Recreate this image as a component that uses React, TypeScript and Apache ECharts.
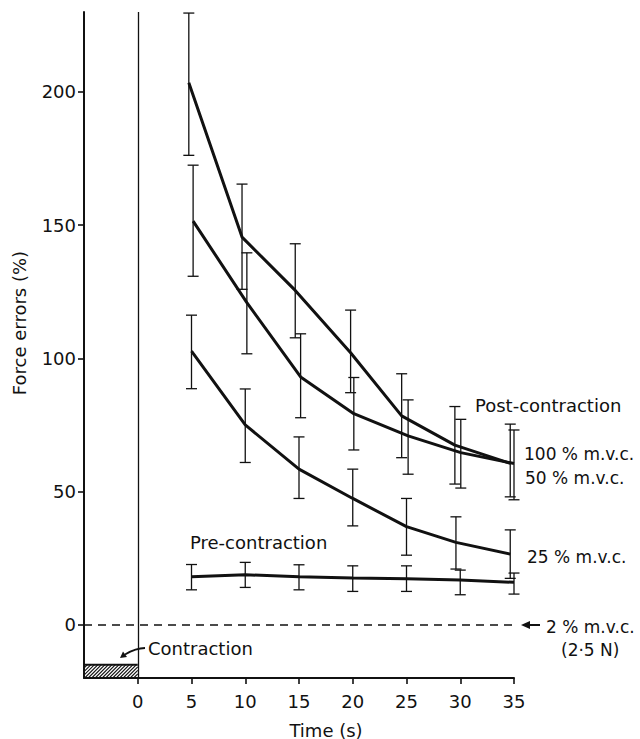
import { useEffect, useRef } from "react";
import * as echarts from "echarts";

// ---- data ----
const timeTicks = [0, 5, 10, 15, 20, 25, 30, 35];
const yTicks = [0, 50, 100, 150, 200];

// 100 % m.v.c. (post-contraction)
const t100 = [4.75, 9.7, 14.65, 19.8, 24.55, 29.5, 34.65];
const mean100 = [203.4, 145.5, 125.5, 102.1, 78.4, 67.4, 60.6];
const hi100 = [229.6, 165.4, 143, 118.1, 94.2, 81.9, 75.3];
const lo100 = [176.2, 125.9, 107.7, 87.1, 62.7, 52.8, 48];

// 50 % m.v.c. (post-contraction)
const t50 = [5.15, 10.15, 15.15, 20.1, 25.15, 30.05, 35];
const mean50 = [151.5, 120.9, 93, 79.2, 70.9, 64.6, 60.5];
const hi50 = [172.5, 139.6, 109.2, 92.8, 84.4, 77.1, 73.1];
const lo50 = [130.8, 101.7, 77.7, 65.6, 56.5, 51.3, 46.9];

// 25 % m.v.c. (post-contraction)
const t25 = [5, 10, 15, 20, 25, 29.6, 34.65];
const mean25 = [102.7, 75, 58.4, 47.4, 36.8, 30.9, 26.5];
const hi25 = [116.2, 88.5, 70.5, 58.4, 47.4, 40.5, 35.6];
const lo25 = [88.6, 60.9, 47.4, 37.1, 26.1, 20.9, 17.4];

// Pre-contraction
const tPre = [5, 10, 15, 20, 25, 30, 35];
const meanPre = [18, 18.75, 18, 17.5, 17.25, 16.75, 15.9];
const hiPre = [22.6, 23.4, 22.5, 22.1, 22.1, 20.5, 19.4];
const loPre = [13.1, 14, 13.1, 12.5, 12.5, 11.25, 11.5];

// Contraction period (hatched bar)
const contraction = [[-5, 0, -15, -20]];

const INK = "#111";
const FONT = "DejaVu Sans";

function lineSeries(name: string, t: number[], m: number[]) {
  return {
    name,
    type: "line",
    data: t.map((x, i) => [x, m[i]]),
    symbol: "none",
    lineStyle: { color: INK, width: 3 },
    z: 3,
    silent: true,
  };
}

function errSeries(name: string, t: number[], lo: number[], hi: number[]) {
  return {
    name: name + " SE",
    type: "custom",
    data: t.map((x, i) => [x, lo[i], hi[i]]),
    encode: { x: 0, y: [1, 2] },
    z: 4,
    silent: true,
    renderItem: (_p: any, api: any) => {
      const x = api.value(0);
      const a = api.coord([x, api.value(2)]);
      const b = api.coord([x, api.value(1)]);
      const hw = 5.5;
      const st = { stroke: INK, lineWidth: 1.3 };
      return {
        type: "group",
        children: [
          { type: "line", shape: { x1: a[0], y1: a[1], x2: b[0], y2: b[1] }, style: st },
          { type: "line", shape: { x1: a[0] - hw, y1: a[1], x2: a[0] + hw, y2: a[1] }, style: st },
          { type: "line", shape: { x1: b[0] - hw, y1: b[1], x2: b[0] + hw, y2: b[1] }, style: st },
        ],
      };
    },
  };
}

function txt(text: string, x: number, y: number, align = "left", extra: any = {}, size = 18) {
  return {
    type: "text",
    x,
    y,
    silent: true,
    ...extra,
    style: {
      text,
      fill: INK,
      fontFamily: FONT,
      fontSize: size,
      align,
      verticalAlign: "middle",
    },
  };
}

export default function App() {
  const ref = useRef<HTMLDivElement>(null);
  useEffect(() => {
    if (!ref.current) return;
    const chart = echarts.init(ref.current, undefined, { renderer: "svg" });
    const option: any = {
      animation: false,
      backgroundColor: "#fff",
      textStyle: { fontFamily: FONT, color: INK },
      grid: { left: 84, right: 126, top: 12, bottom: 61, outerBoundsMode: "none" },
      xAxis: {
        type: "value",
        min: -5,
        max: 35,
        axisLine: { show: true, onZero: false, lineStyle: { color: INK, width: 2 } },
        axisTick: { show: true, customValues: timeTicks, length: 6, lineStyle: { color: INK, width: 1.6 } },
        axisLabel: { customValues: timeTicks, fontSize: 18, color: INK, margin: 14, fontFamily: FONT },
        splitLine: { show: false },
      },
      yAxis: {
        type: "value",
        min: -20,
        max: 230,
        axisLine: { show: true, onZero: false, lineStyle: { color: INK, width: 2 } },
        axisTick: { show: true, customValues: yTicks, length: 6, lineStyle: { color: INK, width: 1.6 } },
        axisLabel: { customValues: yTicks, fontSize: 18, color: INK, margin: 8, fontFamily: FONT },
        splitLine: { show: false },
      },
      series: [
        {
          ...lineSeries("100 % m.v.c.", t100, mean100),
          markLine: {
            silent: true,
            symbol: "none",
            label: { show: false },
            data: [
              { yAxis: 0, lineStyle: { color: INK, width: 1.6, type: [8, 6] } },
              { xAxis: 0, lineStyle: { color: INK, width: 1.3, type: "solid" } },
            ],
          },
        },
        lineSeries("50 % m.v.c.", t50, mean50),
        lineSeries("25 % m.v.c.", t25, mean25),
        lineSeries("Pre-contraction", tPre, meanPre),
        errSeries("100 % m.v.c.", t100, lo100, hi100),
        errSeries("50 % m.v.c.", t50, lo50, hi50),
        errSeries("25 % m.v.c.", t25, lo25, hi25),
        errSeries("Pre-contraction", tPre, loPre, hiPre),
        {
          name: "Contraction",
          type: "custom",
          data: contraction,
          encode: { x: [0, 1], y: [2, 3] },
          silent: true,
          z: 2,
          renderItem: (_p: any, api: any) => {
            const p0 = api.coord([api.value(0), api.value(2)]);
            const p1 = api.coord([api.value(1), api.value(3)]);
            const x0 = p0[0], y0 = p0[1], x1 = p1[0], y1 = p1[1];
            const h = y1 - y0;
            const w = x1 - x0;
            const children: any[] = [];
            for (let c = -h; c < w; c += 3.5) {
              let xa = x0 + c, ya = y1, xb = x0 + c + h, yb = y0;
              if (xa < x0) { ya = y1 - (x0 - xa); xa = x0; }
              if (xb > x1) { yb = y0 + (xb - x1); xb = x1; }
              children.push({
                type: "line",
                shape: { x1: xa, y1: ya, x2: xb, y2: yb },
                style: { stroke: INK, lineWidth: 1.1 },
              });
            }
            children.push({
              type: "line",
              shape: { x1: x0, y1: y0, x2: x1, y2: y0 },
              style: { stroke: INK, lineWidth: 2 },
            });
            return { type: "group", children };
          },
        },
      ],
      graphic: [
        txt("Post-contraction", 475, 405),
        txt("100 % m.v.c.", 524, 454, "left", {}, 17),
        txt("50 % m.v.c.", 525, 478, "left", {}, 17),
        txt("25 % m.v.c.", 527, 557, "left", {}, 17),
        txt("Pre-contraction", 190, 542),
        txt("2 % m.v.c.", 546, 627, "left", {}, 17),
        txt("(2·5 N)", 561, 650, "left", {}, 17),
        txt("Contraction", 148, 648),
        txt("Time (s)", 326, 730, "center"),
        txt("Force errors (%)", 19, 323, "center", { rotation: Math.PI / 2 }),
        // arrow to the dashed 2 % line
        { type: "line", silent: true, shape: { x1: 528, y1: 625, x2: 540, y2: 625 }, style: { stroke: INK, lineWidth: 2 } },
        { type: "polygon", silent: true, shape: { points: [[521, 625], [530, 621], [530, 629]] }, style: { fill: INK } },
        // curved arrow for "Contraction"
        {
          type: "bezierCurve",
          silent: true,
          shape: { x1: 145, y1: 648, cpx1: 136, cpy1: 648, x2: 125, y2: 654.5 },
          style: { stroke: INK, lineWidth: 1.8, fill: "none" },
        },
        { type: "polygon", silent: true, shape: { points: [[120, 658], [123, 651.5], [127, 657]] }, style: { fill: INK } },
      ],
    };
    chart.setOption(option);
    return () => chart.dispose();
  }, []);
  return (
    <div
      ref={ref}
      style={{ position: "fixed", left: 0, top: 0, width: 640, height: 739, background: "#fff" }}
    />
  );
}
